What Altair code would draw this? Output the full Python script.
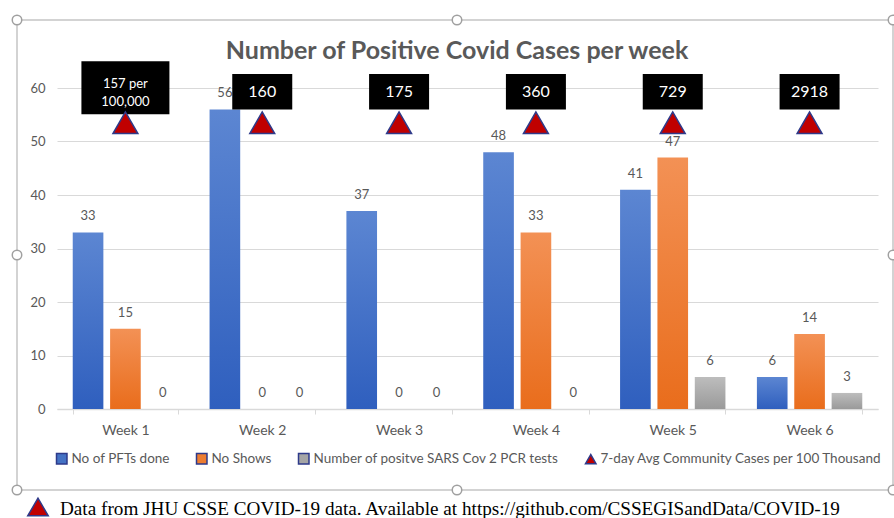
import altair as alt
import pandas as pd

# ---------------- data ----------------
weeks = ["Week 1", "Week 2", "Week 3", "Week 4", "Week 5", "Week 6"]
series_names = [
    "No of PFTs done",
    "No Shows",
    "Number of positve SARS Cov 2 PCR tests",
    "7-day Avg Community Cases per 100 Thousand",
]
pfts_done = [33, 56, 37, 48, 41, 6]
no_shows = [15, 0, 0, 33, 47, 14]
pcr_positive = [0, 0, 0, 0, 6, 3]
community_labels = ["157 per\n100,000", "160", "175", "360", "729", "2918"]

title_text = "Number of Positive Covid Cases per week"
footer_text = "Data from JHU CSSE COVID-19 data. Available at https://github.com/CSSEGISandData/COVID-19"

bars_df = pd.DataFrame({
    "week": weeks * 3,
    "series": [series_names[0]] * 6 + [series_names[1]] * 6 + [series_names[2]] * 6,
    "value": pfts_done + no_shows + pcr_positive,
})
comm_df = pd.DataFrame({"week": weeks, "series": series_names[3], "label": community_labels})

# ---------------- styling ----------------
FONT = "Lato"
TXT = "#595959"
GRID = "#D9D9D9"
colors = ["#4472C4", "#ED7D31", "#A5A5A5", "#C00000"]
gradients = [
    ("#5C86D2", "#2F5FBE"),
    ("#F39155", "#E96D1C"),
    ("#BDBDBD", "#9A9A9A"),
]

W, H = 821, 321
PAD_L, PAD_T = 57, 88

x_enc = alt.X(
    "week:N", sort=weeks, title=None,
    scale=alt.Scale(paddingInner=0.23, paddingOuter=0.115),
    axis=alt.Axis(labelAngle=0, labelFont=FONT, labelFontSize=14, labelColor=TXT,
                  domainColor=GRID, domainWidth=1.5, tickColor=GRID, tickSize=5,
                  tickBand="extent", labelPadding=9, grid=False),
)
y_scale = alt.Scale(domain=[0, 60], nice=False)
y_enc = alt.Y(
    "value:Q", scale=y_scale, title=None,
    axis=alt.Axis(values=[0, 10, 20, 30, 40, 50, 60], labelFont=FONT, labelFontSize=13,
                  labelColor=TXT, domain=False, ticks=False, labelPadding=12,
                  gridColor=GRID, gridWidth=1.2),
)
xo_enc = alt.XOffset(
    "series:N", sort=series_names[:3],
    scale=alt.Scale(domain=series_names[:3], paddingInner=0.18, paddingOuter=0),
)

layers = []

# bars, one layer per series so each gets its own gradient
for i, name in enumerate(series_names[:3]):
    top_c, bot_c = gradients[i]
    grad = alt.Gradient(
        gradient="linear",
        stops=[alt.GradientStop(color=top_c, offset=0), alt.GradientStop(color=bot_c, offset=1)],
        x1=0, x2=0, y1=0, y2=1,
    )
    layers.append(
        alt.Chart(bars_df).transform_filter(alt.datum.series == name)
        .mark_bar(color=grad)
        .encode(x=x_enc, xOffset=xo_enc, y=y_enc)
    )

# value labels
layers.append(
    alt.Chart(bars_df).mark_text(dy=-9, baseline="bottom", font=FONT, fontSize=13, color=TXT)
    .encode(x=x_enc, xOffset=xo_enc, y=y_enc, text="value:Q")
)

# black annotation boxes
multi = "indexof(datum.label, 'per') >= 0"
boxes = (
    alt.Chart(comm_df)
    .transform_calculate(
        top=f"{multi} ? 65.0 : 62.6",
        bot=f"{multi} ? 55.1 : 56.0",
        ty=f"{multi} ? 60.75 : 59.3",
        w=f"{multi} ? 88 : 60",
        fs=f"{multi} ? 13 : 16",
    )
)
layers.append(
    boxes.mark_bar(color="black").encode(
        x=x_enc,
        y=alt.Y("top:Q", scale=y_scale, title=None),
        y2="bot:Q",
        size=alt.Size("w:Q", scale=None),
    )
)
layers.append(
    boxes.mark_text(color="white", font=FONT, lineBreak="\n", baseline="middle", lineHeight=18).encode(
        x=x_enc,
        y=alt.Y("ty:Q", scale=y_scale, title=None),
        text="label:N",
        size=alt.Size("fs:Q", scale=None),
    )
)

# triangles + shared legend
legend_opts = dict(
    title=None, orient="none", legendX=-2, legendY=364, direction="horizontal",
    columns=4, columnPadding=23, symbolSize=110, labelFont=FONT, labelFontSize=13.5,
    labelColor=TXT, labelLimit=400, symbolOffset=0, labelOffset=3,
)
layers.append(
    alt.Chart(comm_df).transform_calculate(level="53.5")
    .mark_point(filled=True, opacity=1, size=620, stroke="#2E3A8A", strokeWidth=1.5)
    .encode(
        x=x_enc,
        y=alt.Y("level:Q", scale=y_scale, title=None),
        color=alt.Color("series:N", scale=alt.Scale(domain=series_names, range=colors),
                        legend=alt.Legend(**legend_opts)),
        shape=alt.Shape("series:N",
                        scale=alt.Scale(domain=series_names,
                                        range=["square", "square", "square", "triangle-up"]),
                        legend=alt.Legend(**legend_opts)),
    )
)

# decorative frame (chart selection outline), title and footer note
one = pd.DataFrame({"k": [0]})
FL, FR, FT, FB = 17 - PAD_L, 893 - PAD_L, 20 - PAD_T, 490 - PAD_T
frame_color = "#C4C4C4"
for (xa, xb, ya, yb) in [(FL, FR, FT, FT), (FL, FR, FB, FB), (FL, FL, FT, FB), (FR, FR, FT, FB)]:
    layers.append(
        alt.Chart(one).mark_rule(color=frame_color, strokeWidth=1.5)
        .encode(x=alt.value(xa), x2=alt.value(xb), y=alt.value(ya), y2=alt.value(yb))
    )
mid_x = 457 - PAD_L
mid_y = 255 - PAD_T
for (hx, hy) in [(FL, FT), (mid_x, FT), (FR, FT), (FL, mid_y), (FR, mid_y),
                 (FL, FB), (mid_x, FB), (FR, FB)]:
    layers.append(
        alt.Chart(one).mark_point(shape="circle", filled=True, fill="white", opacity=1,
                                  stroke="#A0A0A0", strokeWidth=1.5, size=90)
        .encode(x=alt.value(hx), y=alt.value(hy))
    )

layers.append(
    alt.Chart(one).mark_text(align="center", baseline="alphabetic", font=FONT, fontSize=25,
                             fontWeight="bold", color=TXT)
    .encode(x=alt.value(457 - PAD_L), y=alt.value(59 - PAD_T), text=alt.value(title_text))
)

layers.append(
    alt.Chart(one).mark_point(shape="triangle-up", filled=True, fill="#C00000", opacity=1,
                              stroke="#2E3A8A", strokeWidth=1.5, size=420)
    .encode(x=alt.value(38 - PAD_L), y=alt.value(507 - PAD_T))
)
layers.append(
    alt.Chart(one).mark_text(align="left", baseline="alphabetic", font="Liberation Serif",
                             fontSize=19.2, color="black")
    .encode(x=alt.value(60 - PAD_L), y=alt.value(515 - PAD_T), text=alt.value(footer_text))
)

chart = (
    alt.layer(*layers)
    .properties(
        width=W, height=H,
        autosize=alt.AutoSizeParams(type="none"),
        padding={"left": PAD_L, "top": PAD_T, "right": 894 - PAD_L - W, "bottom": 518 - PAD_T - H},
        background="white",
    )
    .configure_view(stroke=None)
)

chart.save("out.html", embed_options={"renderer": "svg", "actions": False})
